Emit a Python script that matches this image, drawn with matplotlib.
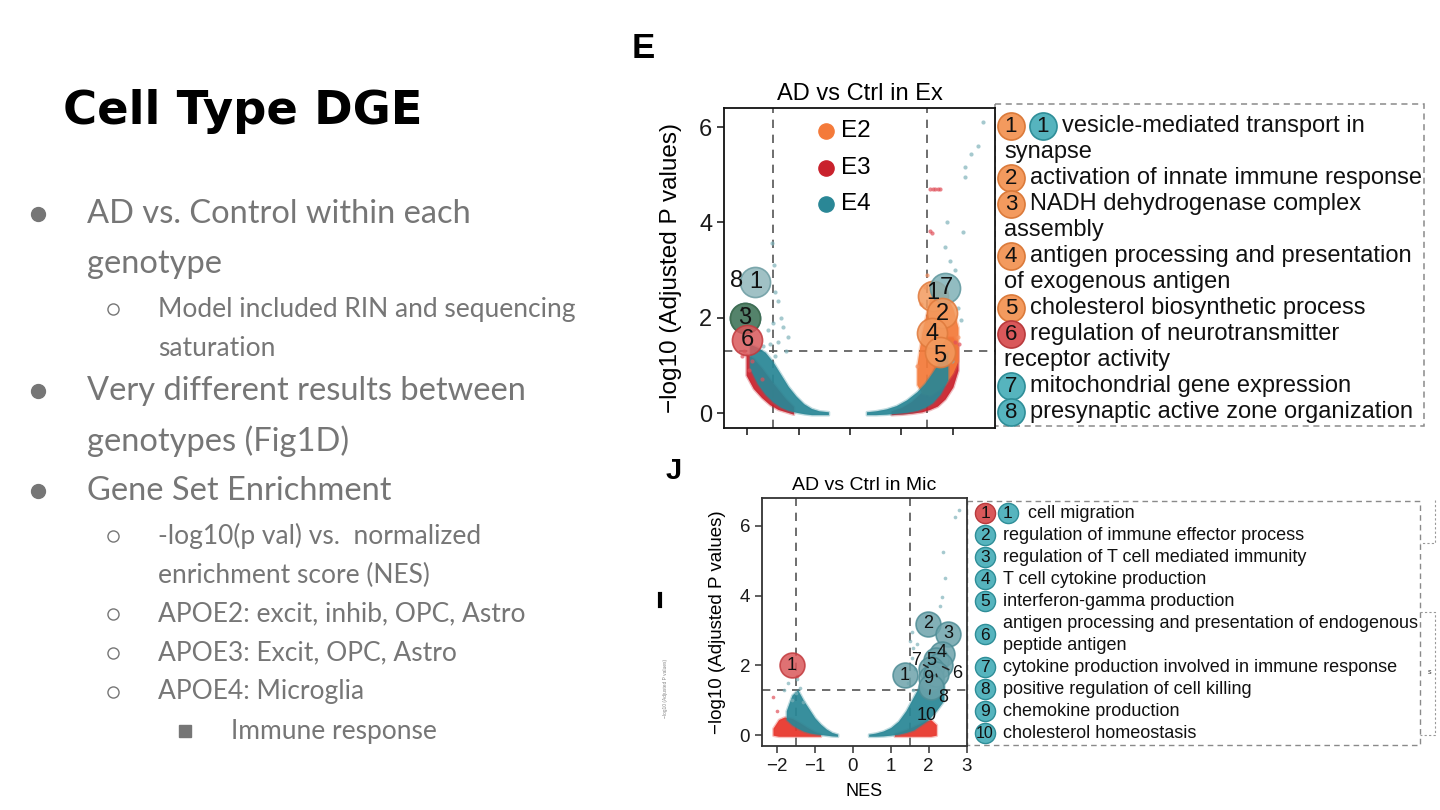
import matplotlib
matplotlib.use("Agg")
import matplotlib.pyplot as plt
from matplotlib.patches import Rectangle

W, H = 1440, 810

# ---- slide text ----
slide_title = "Cell Type DGE"
bullet_levels = [0, 0, 1, 1, 0, 0, 0, 1, 1, 1, 1, 1, 2]
bullet_first = [True, False, True, False, True, False, True, True, False, True, True, True, True]
bullet_lines = [
    "AD vs. Control within each", "genotype",
    "Model included RIN and sequencing", "saturation",
    "Very different results between", "genotypes (Fig1D)",
    "Gene Set Enrichment",
    "-log10(p val) vs.  normalized", "enrichment score (NES)",
    "APOE2: excit, inhib, OPC, Astro",
    "APOE3: Excit, OPC, Astro",
    "APOE4: Microglia",
    "Immune response",
]

# ---- genotypes ----
genotypes = ["E2", "E3", "E4"]
geno_colors = ["#F47A3A", "#C9212C", "#2A8796"]

# ---- panel E: AD vs Ctrl in Ex, dense clouds as envelopes ----
ex_l_e3_nes = [-2.02, -1.88, -1.72, -1.56, -1.4, -1.25, -1.1]
ex_l_e3_lo = [0.8, 0.52, 0.33, 0.18, 0.08, 0.03, -0.02]
ex_l_e3_hi = [1.25, 1.15, 0.95, 0.72, 0.5, 0.3, 0.14]
ex_l_e4_nes = [-1.95, -1.8, -1.65, -1.5, -1.35, -1.2, -1.05, -0.9, -0.75, -0.6, -0.42]
ex_l_e4_lo = [0.95, 0.62, 0.4, 0.24, 0.13, 0.06, 0.02, -0.01, -0.03, -0.03, -0.03]
ex_l_e4_hi = [1.45, 1.38, 1.28, 1.08, 0.82, 0.56, 0.36, 0.2, 0.1, 0.05, 0.03]
ex_r_e3_nes = [0.8, 1.0, 1.2, 1.4, 1.55, 1.7, 1.85, 2.0, 2.1]
ex_r_e3_lo = [-0.03, -0.02, 0.0, 0.03, 0.08, 0.15, 0.3, 0.55, 0.9]
ex_r_e3_hi = [0.05, 0.12, 0.25, 0.45, 0.75, 1.2, 1.6, 1.6, 1.4]
ex_r_e2_nes = [1.3, 1.4, 1.55, 1.7, 1.85, 2.0, 2.1]
ex_r_e2_lo = [0.6, 0.42, 0.38, 0.48, 0.62, 0.85, 1.1]
ex_r_e2_hi = [1.0, 1.7, 2.4, 2.6, 2.5, 2.2, 1.8]
ex_r_e4_nes = [0.32, 0.5, 0.7, 0.9, 1.1, 1.3, 1.45, 1.6, 1.75, 1.9]
ex_r_e4_lo = [-0.03, -0.03, -0.02, 0.0, 0.02, 0.06, 0.12, 0.22, 0.4, 0.7]
ex_r_e4_hi = [0.03, 0.05, 0.09, 0.16, 0.28, 0.45, 0.62, 0.85, 1.1, 1.3]

# sparse points outside the clouds
ex_e4_pts_nes = [2.58, 2.49, 2.36, 2.23, 2.23, 1.88, 2.19, 1.84, 1.94, 2.05, 2.1, 2.15, 1.98,
                 -1.52, -1.47, -1.46, -1.4, -1.35, -1.3, -1.5, -1.6, -1.4, -1.2, -1.25, -1.45, -1.7, -1.55]
ex_e4_pts_p = [6.1, 5.6, 5.43, 5.16, 4.95, 4.0, 3.8, 3.49, 3.2, 3.0, 2.2, 1.95, 1.1,
               3.56, 3.1, 2.55, 2.35, 2.0, 1.8, 1.9, 1.75, 1.5, 1.6, 1.3, 1.2, 1.4, 1.45]
ex_e3_pts_nes = [1.56, 1.61, 1.66, 1.71, 1.76, 1.55, 1.59, 2.05, 2.12, -1.9, -2.06, -1.97, -1.72, -2.1]
ex_e3_pts_p = [4.7, 4.7, 4.7, 4.7, 4.7, 3.83, 3.78, 1.5, 1.45, 1.1, 1.3, 0.9, 0.72, 1.2]
ex_e2_pts_nes = [1.45, 1.38, 2.1, 2.02, 1.3, 1.5]
ex_e2_pts_p = [2.65, 2.3, 1.6, 2.0, 1.0, 2.9]

ex_bub_nes = [-2.05, -1.84, -2.05, -2.0, 1.61, 1.84, 1.79, 1.6, 1.75]
ex_bub_p = [2.0, 2.75, 2.0, 1.53, 2.45, 2.62, 2.1, 1.68, 1.28]
ex_bub_num = ["8", "1", "3", "6", "1", "7", "2", "4", "5"]
ex_bub_lab_nes = [-2.21, -1.84, -2.05, -2.0, 1.62, 1.88, 1.8, 1.6, 1.75]
ex_bub_lab_p = [2.77, 2.75, 2.0, 1.53, 2.52, 2.62, 2.08, 1.66, 1.2]
ex_bub_face = ["#5E9AA3", "#8FB6BB", "#4F7D5F", "#DA585B", "#F39A5E", "#7FB1B7", "#F39A5E", "#F39A5E", "#F39A5E"]
ex_bub_edge = ["#3F7F88", "#6C9CA2", "#3E6A4C", "#C23A3E", "#E07A3C", "#5F979E", "#E07A3C", "#E07A3C", "#E07A3C"]

ex_terms = [
    "vesicle-mediated transport in\nsynapse",
    "activation of innate immune response",
    "NADH dehydrogenase complex\nassembly",
    "antigen processing and presentation\nof exogenous antigen",
    "cholesterol biosynthetic process",
    "regulation of neurotransmitter\nreceptor activity",
    "mitochondrial gene expression",
    "presynaptic active zone organization",
]
ex_term_groups = [["E2", "E4"], ["E2"], ["E2"], ["E2"], ["E2"], ["E3"], ["E4"], ["E4"]]

# ---- panel J: AD vs Ctrl in Mic ----
mic_l_e3_nes = [-2.1, -1.95, -1.8, -1.6, -1.4, -1.2, -1.0, -0.85]
mic_l_e3_lo = [0.0, -0.03, -0.03, -0.03, -0.03, -0.03, -0.03, -0.03]
mic_l_e3_hi = [0.2, 0.45, 0.52, 0.48, 0.36, 0.22, 0.1, 0.04]
mic_l_e4_nes = [-1.75, -1.6, -1.45, -1.3, -1.15, -1.0, -0.85, -0.7, -0.55, -0.4]
mic_l_e4_lo = [0.45, 0.3, 0.2, 0.12, 0.07, 0.04, 0.02, 0.0, -0.02, -0.03]
mic_l_e4_hi = [0.7, 1.15, 1.3, 1.0, 0.75, 0.5, 0.32, 0.18, 0.08, 0.03]
mic_r_e3_nes = [1.1, 1.3, 1.5, 1.7, 1.9, 2.05, 2.2]
mic_r_e3_lo = [-0.03, -0.03, -0.03, -0.03, -0.03, -0.03, 0.0]
mic_r_e3_hi = [0.05, 0.12, 0.2, 0.3, 0.4, 0.45, 0.3]
mic_r_e4_nes = [0.42, 0.6, 0.8, 1.0, 1.2, 1.4, 1.6, 1.8, 2.0, 2.2, 2.4]
mic_r_e4_lo = [-0.03, -0.03, -0.02, 0.0, 0.03, 0.08, 0.15, 0.3, 0.45, 0.7, 1.0]
mic_r_e4_hi = [0.03, 0.06, 0.12, 0.22, 0.4, 0.7, 1.1, 1.5, 1.8, 2.0, 1.8]

mic_e4_pts_nes = [2.8, 2.69, 2.38, 2.43, 2.34, 2.3, 1.55, 1.5, 1.6, 1.55, 1.7, 1.65, 1.45, 1.6,
                  -1.47, -1.8, -1.6, -1.5, -1.4, -1.7, -1.3]
mic_e4_pts_p = [6.47, 6.26, 5.25, 4.5, 3.95, 3.7, 2.96, 2.7, 2.5, 2.2, 2.6, 1.9, 1.5, 1.3,
                1.62, 1.3, 1.0, 1.2, 1.35, 1.5, 0.95]
mic_e3_pts_nes = [-2.1, -2.0, -1.47]
mic_e3_pts_p = [1.1, 0.7, 1.7]

mic_bub_nes = [-1.6, 1.38, 1.99, 2.52, 2.34, 2.2, 2.3, 2.05, 2.05, 2.2, 2.05]
mic_bub_p = [2.0, 1.72, 3.2, 2.91, 2.34, 2.15, 2.0, 1.9, 1.65, 1.75, 1.38]
mic_bub_num = ["1", "1", "2", "3", "4", "5", "6", "7", "9", "8", "10"]
mic_bub_lab_nes = [-1.6, 1.38, 1.99, 2.52, 2.34, 2.08, 2.74, 1.66, 2.0, 2.38, 1.95]
mic_bub_lab_p = [2.0, 1.72, 3.2, 2.91, 2.36, 2.15, 1.77, 2.15, 1.62, 1.08, 0.57]
mic_bub_leader = [False, False, False, False, False, False, True, True, False, True, True]
mic_bub_face = ["#DA585B"] + ["#6DA3AB"] * 10
mic_bub_edge = ["#C23A3E"] + ["#4F8D96"] * 10

mic_terms = [
    "cell migration",
    "regulation of immune effector process",
    "regulation of T cell mediated immunity",
    "T cell cytokine production",
    "interferon-gamma production",
    "antigen processing and presentation of endogenous\npeptide antigen",
    "cytokine production involved in immune response",
    "positive regulation of cell killing",
    "chemokine production",
    "cholesterol homeostasis",
]
mic_term_groups = [["E3", "E4"]] + [["E4"]] * 9

legend_face = {"E2": "#F39A5E", "E3": "#D9585A", "E4": "#56B4BE"}
legend_edge = {"E2": "#DB7A3A", "E3": "#B93A3D", "E4": "#2F8E98"}


def px_axes(fig, left, top, right, bottom):
    return fig.add_axes([left / W, 1 - bottom / H, (right - left) / W, (bottom - top) / H])


def style_volcano(ax, tick_fs, line_c):
    for s in ax.spines.values():
        s.set_color(line_c)
        s.set_linewidth(1.3)
    ax.tick_params(labelsize=tick_fs, length=5, width=1.1, color=line_c, labelcolor="#1a1a1a")
    dash = (0, (5, 4))
    ax.axvline(-1.5, color="#555555", lw=1.2, ls=dash, zorder=1)
    ax.axvline(1.5, color="#555555", lw=1.2, ls=dash, zorder=1)
    ax.axhline(1.3, color="#555555", lw=1.2, ls=dash, zorder=1)


def cloud(ax, x, lo, hi, color):
    # soft edge, then the dense core
    ax.fill_between(x, lo, hi, color=color, alpha=0.3, lw=2, edgecolor=color, zorder=2)
    ax.fill_between(x, lo, hi, color=color, alpha=0.9, lw=0, zorder=2)


def bubbles(ax, nes, p, nums, lab_x, lab_y, face, edge, size, fs, leaders):
    for i in range(len(nes)):
        ax.scatter(nes[i], p[i], s=size, color=face[i], edgecolors=edge[i], linewidths=1.2,
                   alpha=0.85, zorder=4)
    for i in range(len(nes)):
        if leaders[i]:
            ax.annotate(nums[i], xy=(nes[i], p[i]), xytext=(lab_x[i], lab_y[i]), fontsize=fs,
                        ha="center", va="center", color="#111111", zorder=6,
                        arrowprops=dict(arrowstyle="-", color="#222222", lw=1.1,
                                        shrinkA=fs * 0.55, shrinkB=2))
        else:
            ax.text(lab_x[i], lab_y[i], nums[i], fontsize=fs, ha="center", va="center",
                    color="#111111", zorder=6)


def main():
    plt.rcParams["font.family"] = ["Liberation Sans", "DejaVu Sans"]
    fig = plt.figure(figsize=(W / 100, H / 100), dpi=100, facecolor="white")

    # overlay in pixel coordinates for slide text and legend boxes
    ov = fig.add_axes([0, 0, 1, 1], zorder=0)
    ov.set_xlim(0, W)
    ov.set_ylim(H, 0)
    ov.axis("off")

    ov.text(63, 124, slide_title, fontsize=33.5, fontweight="bold", family=["DejaVu Sans"],
            ha="left", va="baseline", color="black")

    grey = "#767676"
    text_x = {0: 87, 1: 158, 2: 231}
    mark_x = {0: 38, 1: 113, 2: 185}
    fsize = {0: 23.5, 1: 19, 2: 19}
    gap = {(0, 0): 50, (1, 0): 43, (0, 1): 45, (1, 1): 39, (1, 2): 39}
    y = 214
    prev = None
    for lvl, first, line in zip(bullet_levels, bullet_first, bullet_lines):
        if prev is not None:
            y += gap[(prev, lvl)]
        ov.text(text_x[lvl], y, line, fontsize=fsize[lvl], family=["Lato", "DejaVu Sans"],
                ha="left", va="center", color=grey)
        if first:
            if lvl == 0:
                ov.plot(mark_x[lvl], y, "o", ms=10, color=grey)
            elif lvl == 1:
                ov.plot(mark_x[lvl], y, "o", ms=8, mfc="none", mec=grey, mew=1.0)
            else:
                ov.plot(mark_x[lvl], y, "s", ms=8, color=grey)
        prev = lvl

    # panel letters and small crop remnants
    ov.text(643, 48, "E", fontsize=25, fontweight="bold", ha="center", va="center", color="black")
    ov.text(674, 471, "J", fontsize=21, fontweight="bold", ha="center", va="center", color="black")
    ov.plot([660, 660], [594, 606], color="black", lw=3)
    ov.text(665, 688, "\u2212log10 (Adjusted P values)", fontsize=3.5, rotation=90, color="#888888",
            ha="center", va="center")
    ov.plot([1435, 1435, 1420], [500, 543, 543], color="#999999", lw=0.8, ls=(0, (2, 2)))
    ov.plot([1420, 1435, 1435, 1420], [612, 612, 735, 735], color="#999999", lw=0.8, ls=(0, (2, 2)))
    ov.text(1430, 673, "s", fontsize=5, color="#333333", ha="center", va="center")

    # ---- panel E ----
    axE = px_axes(fig, 724, 108, 995, 428)
    axE.set_xlim(-2.45, 2.82)
    axE.set_ylim(-0.31, 6.4)
    style_volcano(axE, 17, "#111111")
    axE.set_yticks([0, 2, 4, 6])
    axE.set_xticks([-2, -1, 0, 1, 2])
    axE.set_xticklabels([])
    axE.set_ylabel("\u2212log10 (Adjusted P values)", fontsize=17.5, labelpad=12)
    axE.set_title("AD vs Ctrl in Ex", fontsize=17, pad=6)

    cloud(axE, ex_l_e3_nes, ex_l_e3_lo, ex_l_e3_hi, geno_colors[1])
    cloud(axE, ex_l_e4_nes, ex_l_e4_lo, ex_l_e4_hi, geno_colors[2])
    cloud(axE, ex_r_e3_nes, ex_r_e3_lo, ex_r_e3_hi, geno_colors[1])
    cloud(axE, ex_r_e2_nes, ex_r_e2_lo, ex_r_e2_hi, geno_colors[0])
    cloud(axE, ex_r_e4_nes, ex_r_e4_lo, ex_r_e4_hi, geno_colors[2])
    axE.scatter(ex_e4_pts_nes, ex_e4_pts_p, s=9, color="#7FB3BA", alpha=0.7, lw=0, zorder=3)
    axE.scatter(ex_e3_pts_nes, ex_e3_pts_p, s=9, color="#E0505A", alpha=0.7, lw=0, zorder=3)
    axE.scatter(ex_e2_pts_nes, ex_e2_pts_p, s=9, color="#F49060", alpha=0.7, lw=0, zorder=3)

    bubbles(axE, ex_bub_nes, ex_bub_p, ex_bub_num, ex_bub_lab_nes, ex_bub_lab_p,
            ex_bub_face, ex_bub_edge, 470, 17, [n == "8" for n in ex_bub_num])

    for g, c, row in zip(genotypes, geno_colors, [0.928, 0.813, 0.70]):
        axE.scatter([0.376], [row], s=120, color=c, transform=axE.transAxes, zorder=7)
        axE.text(0.43, row, g, fontsize=17.5, va="center", ha="left", transform=axE.transAxes, zorder=7)

    ov.add_patch(Rectangle((995, 104), 1424 - 995, 322, fill=False, ec="#8a8a8a", lw=1.1,
                           ls=(0, (4, 3))))
    y = 126
    for k, (term, groups) in enumerate(zip(ex_terms, ex_term_groups)):
        cx = 1011
        for g in groups:
            ov.plot(cx, y, "o", ms=19.5, mfc=legend_face[g], mec=legend_edge[g], mew=1.2)
            ov.text(cx, y + 1, str(k + 1), fontsize=16, ha="center", va="center", color="#111111")
            cx += 32
        lines = term.split("\n")
        ov.text(cx - 13, y, lines[0], fontsize=17, ha="left", va="center", color="#111111")
        for extra in lines[1:]:
            y += 26
            ov.text(1004, y, extra, fontsize=17, ha="left", va="center", color="#111111")
        y += 26

    # ---- panel J ----
    axJ = px_axes(fig, 762, 498, 967, 746)
    axJ.set_xlim(-2.39, 3.01)
    axJ.set_ylim(-0.31, 6.8)
    style_volcano(axJ, 13.5, "#333333")
    axJ.set_yticks([0, 2, 4, 6])
    axJ.set_xticks([-2, -1, 0, 1, 2, 3])
    axJ.set_xlabel("NES", fontsize=13, labelpad=6)
    axJ.set_ylabel("\u2212log10 (Adjusted P values)", fontsize=13.5, labelpad=10)
    axJ.set_title("AD vs Ctrl in Mic", fontsize=14, pad=6)

    cloud(axJ, mic_l_e3_nes, mic_l_e3_lo, mic_l_e3_hi, "#E8352B")
    cloud(axJ, mic_l_e4_nes, mic_l_e4_lo, mic_l_e4_hi, geno_colors[2])
    cloud(axJ, mic_r_e3_nes, mic_r_e3_lo, mic_r_e3_hi, "#E8352B")
    cloud(axJ, mic_r_e4_nes, mic_r_e4_lo, mic_r_e4_hi, geno_colors[2])
    axJ.scatter(mic_e4_pts_nes, mic_e4_pts_p, s=7, color="#7FB3BA", alpha=0.7, lw=0, zorder=3)
    axJ.scatter(mic_e3_pts_nes, mic_e3_pts_p, s=7, color="#E0505A", alpha=0.7, lw=0, zorder=3)

    bubbles(axJ, mic_bub_nes, mic_bub_p, mic_bub_num, mic_bub_lab_nes, mic_bub_lab_p,
            mic_bub_face, mic_bub_edge, 320, 13, mic_bub_leader)

    ov.add_patch(Rectangle((967, 501), 1420 - 967, 244, fill=False, ec="#8a8a8a", lw=1.0,
                           ls=(0, (4, 3))))
    y = 513
    for k, (term, groups) in enumerate(zip(mic_terms, mic_term_groups)):
        lines = term.split("\n")
        cy = y + 11 * (len(lines) - 1)
        cx = 985
        for g in groups:
            ov.plot(cx, cy, "o", ms=14.5, mfc=legend_face[g], mec=legend_edge[g], mew=1.0)
            ov.text(cx, cy + 1, str(k + 1), fontsize=12.5 if k < 9 else 11.5, ha="center",
                    va="center", color="#111111")
            cx += 23
        tx = 1028 if len(groups) > 1 else 1003
        for j, line in enumerate(lines):
            ov.text(tx, y + 22 * j, line, fontsize=13, ha="left", va="center", color="#111111")
        y += 22 * len(lines)

    fig.savefig("out.png", dpi=100, facecolor="white")


if __name__ == "__main__":
    main()
